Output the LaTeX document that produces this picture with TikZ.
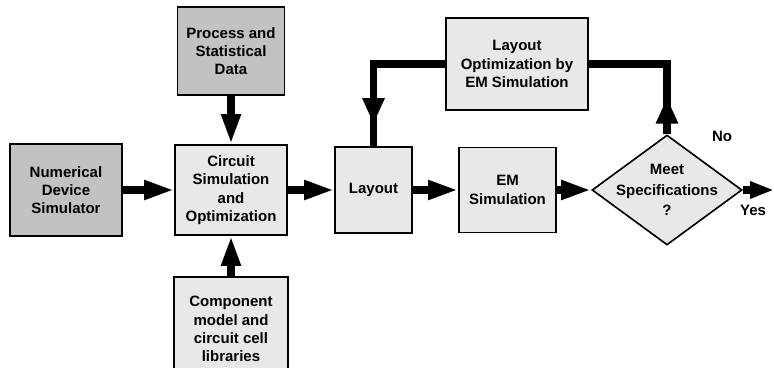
\documentclass[tikz,border=0pt]{standalone}
\usepackage{fontspec}
\setmainfont{Liberation Sans}
\usetikzlibrary{arrows.meta,shapes.geometric}
\usetikzlibrary{decorations.markings}

\begin{document}
\begin{tikzpicture}[
   x=0.03cm, y=-0.03cm,
   box/.style={
       draw, line width=1.4pt, fill=black!9,
       minimum width=#1, inner sep=0pt, align=center,
       font=\bfseries\fontsize{12.8}{15.6}\selectfont
   },
   darkbox/.style={box=#1, fill=black!24},
   decision/.style={
       draw, line width=1.4pt, fill=black!9, diamond,
       minimum width=4.5cm, minimum height=3.3cm, inner sep=0pt
   },
   txt/.style={align=center, font=\bfseries\fontsize{12.8}{15.6}\selectfont},
   flow/.style={
       line width=0.22cm,
       -{Triangle[length=0.9cm,width=0.54cm]}
   },
   back/.style={
       line width=0.22cm,
       decoration={
           markings,% arrow half way along the line
           mark=at position #1 with {\arrow{Triangle[length=0.78cm,width=0.62cm]}}
       },
       postaction=decorate
   }
  ]
  \useasboundingbox (0,0) rectangle (774,368);
  \clip (0,0) rectangle (774,368);

  \node [darkbox=3.36cm, minimum height=2.76cm] (num) at (66,190) {Numerical\\Device\\Simulator};
  \node [darkbox=3.21cm, minimum height=2.64cm] (proc) at (231,51) {Process and\\Statistical\\Data};
  \node [box=3.36cm, minimum height=2.7cm] (circ) at (231,190) {Circuit\\Simulation\\and\\Optimization};
  \node [box=3.42cm, minimum height=3.12cm] (comp) at (231,329) {Component\\model and\\circuit cell\\libraries};
  \node [box=2.31cm, minimum height=2.58cm] (layout) at (373.5,190) {Layout};
  \node [box=4.26cm, minimum height=2.76cm] (lopt) at (517,64) {Layout\\Optimization by\\EM Simulation};
  \node [box=2.91cm, minimum height=2.55cm] (em) at (507.5,190) {EM\\Simulation};
  \node [decision] (meet) at (667,190) {};
  \node [txt] (meettext) at (667,190) {Meet\\[2pt]Specifications\\[2pt]?};
  \node [txt] (no) at (722,136) {No};
  \node [txt] (yes) at (753,210) {Yes};
  \coordinate (out) at (774,190);

  \draw [flow] (num) -- (circ);
  \draw [flow] (proc) -- (circ);
  \draw [flow] (comp) -- (circ);
  \draw [flow] (circ) -- (layout);
  \draw [flow] (layout) -- (em);
  \draw [flow] (em) -- (meet);
  \draw [line width=0.22cm, -{Triangle[length=0.72cm,width=0.48cm]}] (meet.east) -- (out);
  \draw [back=1.1cm] (meet.north) |- (lopt.east);
  \draw [back=-0.66cm] (lopt.west) -| (layout.north);
\end{tikzpicture}
\end{document}
